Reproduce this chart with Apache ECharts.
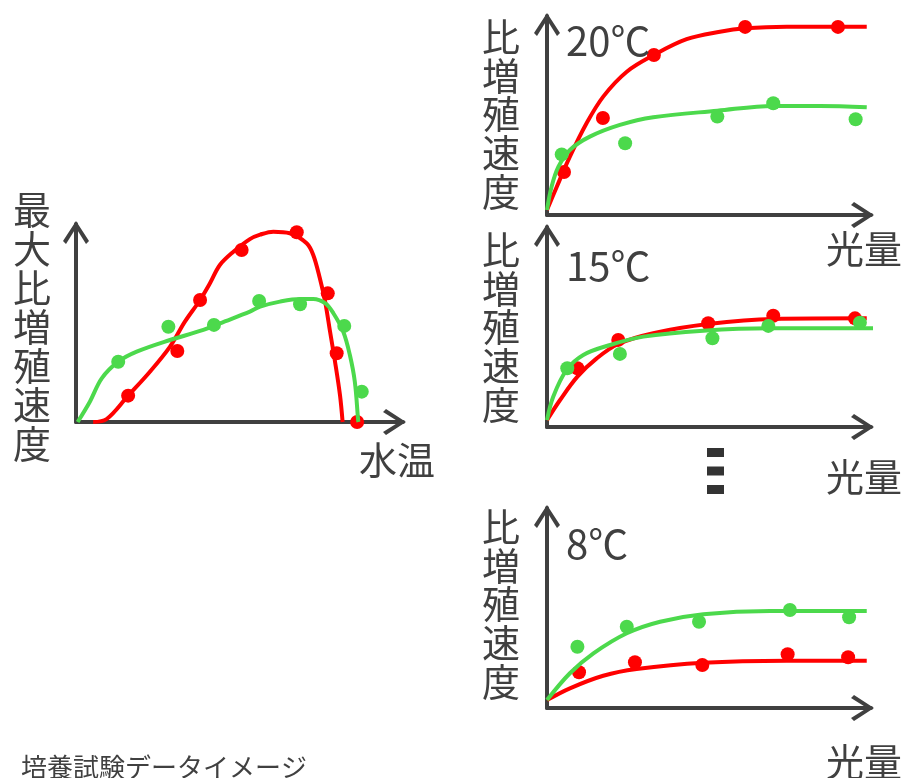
<!DOCTYPE html>
<html>
<head>
<meta charset="utf-8">
<script src="https://cdn.jsdelivr.net/npm/echarts@6/dist/echarts.min.js"></script>
<style>html,body{margin:0;padding:0;background:#fff}#c{width:903px;height:778px}</style>
</head>
<body>
<div id="c"></div>
<script>
// ---------- data (arbitrary 0..100 units) ----------
// Left panel: max specific growth rate vs water temperature
const tempRedPoints   = [[15.8,13.1],[30.7,35.3],[37.6,60.7],[50.2,85.6],[66.9,94.4],[76.3,64.0],[79.0,34.2],[85.2,0]];
const tempGreenPoints = [[12.8,30.0],[28.0,47.4],[41.8,48.3],[55.5,60.2],[67.9,58.6],[81.3,47.8],[86.6,15.1]];
const tempRedCurve    = [[5.2,0],[9.3,1.5],[15.8,13.1],[22.4,25.0],[28.5,37.5],[33.0,49.9],[37.6,60.7],[40.6,69.0],[43.6,78.1],[47.7,84.7],[52.7,91.0],[55.8,93.2],[59.8,94.7],[64.8,93.9],[69.9,88.9],[71.9,83.1],[73.9,71.5],[75.5,59.9],[77.0,44.9],[78.5,30.0],[80.0,13.4],[80.8,0]];
const tempGreenCurve  = [[0.5,0],[4.2,10.1],[7.8,21.7],[12.8,30.0],[18.4,35.0],[28.5,40.8],[38.6,45.8],[43.6,49.1],[52.7,54.9],[55.8,57.4],[61.8,59.9],[67.9,61.2],[71.9,61.2],[75.5,59.1],[78.0,54.1],[81.0,44.9],[83.0,33.3],[84.5,20.0],[85.5,1.0],[85.6,0]];

// 20℃ panel: specific growth rate vs light
const t20RedPoints   = [[5.2,21.3],[17.1,48.0],[32.7,79.2],[60.6,93.1],[89.0,93.1]];
const t20GreenPoints = [[4.5,30.0],[23.9,35.5],[52.1,48.7],[69.2,55.3],[94.4,47.4]];
const t20RedCurve    = [[0,2.5],[3.0,14.0],[7.0,28.9],[12.1,45.4],[17.2,58.6],[24.4,70.9],[32.7,79.2],[42.7,87.0],[52.9,90.7],[60.6,92.4],[73.3,93.2],[97.8,93.2]];
const t20GreenCurve  = [[0,2.5],[1.4,14.0],[3.5,23.9],[7.0,32.2],[13.1,38.8],[22.3,44.6],[32.5,48.4],[52.1,51.6],[69.2,54.0],[83.5,54.0],[97.8,53.3]];

// 15℃ panel
const t15RedPoints   = [[9.3,28.9],[21.8,42.9],[49.3,51.1],[69.2,54.8],[94.2,53.5]];
const t15GreenPoints = [[6.2,28.9],[22.3,36.0],[50.6,43.7],[67.7,49.8],[95.7,51.4]];
const t15RedCurve    = [[0,3.4],[4.0,13.3],[9.3,24.8],[15.2,33.8],[21.8,40.9],[32.5,46.2],[49.3,50.7],[69.2,53.2],[97.8,53.5]];
const t15GreenCurve  = [[0,3.4],[1.9,14.9],[6.0,28.1],[11.1,35.5],[19.3,40.4],[29.5,44.5],[47.8,47.4],[68.2,48.6],[102.8,48.6]];

// 8℃ panel
const t8RedPoints   = [[9.8,17.6],[26.9,22.5],[47.5,21.2],[73.6,26.5],[92.1,25.0]];
const t8GreenPoints = [[9.3,30.2],[24.4,40.0],[46.5,42.5],[74.3,48.3],[92.4,44.7]];
const t8RedCurve    = [[0,3.9],[7.0,9.7],[17.2,15.9],[27.4,19.2],[47.8,22.3],[73.3,23.3],[97.8,23.3]];
const t8GreenCurve  = [[0,3.9],[7.0,17.1],[14.2,26.9],[24.4,36.8],[34.6,42.5],[47.8,46.2],[68.2,47.8],[97.8,47.8]];

// texts
const leftYLabel   = ['最','大','比','増','殖','速','度'];
const rightYLabel  = ['比','増','殖','速','度'];
const leftXLabel   = '水温';
const rightXLabel  = '光量';
const panelTemps   = ['20℃','15℃','8℃'];
const caption      = '培養試験データイメージ';

// ---------- styling ----------
const FONT  = '"Noto Sans CJK JP","Noto Sans",sans-serif';
const AXC   = '#404040';
const TXC   = '#404040';
const RED   = '#ff0000';
const GREEN = '#4cd94c';
const ARROW = 'path://M13,0L26,20L23,23L13,7L3,23L0,20Z';

const grids = [
  {left:76,  top:224, width:327, height:198},
  {left:547, top:16,  width:324, height:199},
  {left:547, top:227, width:324, height:200},
  {left:547, top:508, width:324, height:200}
];

function axis(i, max) {
  return {
    type:'value', gridIndex:i, min:0, max:max,
    axisLine:{show:true, onZero:true, lineStyle:{color:AXC, width:4},
      symbol:['none', ARROW], symbolSize:[26,23], symbolOffset:[0,-8.5]},
    axisTick:{show:false}, axisLabel:{show:false}, splitLine:{show:false}
  };
}

const panels = [
  [tempRedCurve, tempRedPoints, tempGreenCurve, tempGreenPoints],
  [t20RedCurve, t20RedPoints, t20GreenCurve, t20GreenPoints],
  [t15RedCurve, t15RedPoints, t15GreenCurve, t15GreenPoints],
  [t8RedCurve, t8RedPoints, t8GreenCurve, t8GreenPoints]
];

const series = [];
panels.forEach((p, i) => {
  const lineS = (data, color, z) => ({type:'line', xAxisIndex:i, yAxisIndex:i, data, smooth:0.35,
    showSymbol:false, symbol:'none', clip:false, lineStyle:{color, width:4}, z, silent:true});
  const dotS = (data, color, z) => ({type:'scatter', xAxisIndex:i, yAxisIndex:i, data, symbolSize:14,
    clip:false, itemStyle:{color, opacity:1}, z, silent:true});
  series.push(lineS(p[0], RED, 2), dotS(p[1], RED, 3), lineS(p[2], GREEN, 4), dotS(p[3], GREEN, 5));
});

function txt(text, x, y, size, align, lh) {
  return {type:'text', x, y, silent:true, z:10, style:{text, fill:TXC, font:size+'px '+FONT,
    align, textAlign:align, verticalAlign:'top', textVerticalAlign:'top', lineHeight:lh || size}};
}

const graphics = [
  txt(leftYLabel.join('\n'), 32, 190.5, 38, 'center', 39),
  txt(rightYLabel.join('\n'), 501, 17.5, 38, 'center', 38.6),
  txt(rightYLabel.join('\n'), 501, 230.5, 38, 'center', 38.6),
  txt(rightYLabel.join('\n'), 501, 507.5, 38, 'center', 38.6),
  txt(leftXLabel, 435, 441, 38, 'right'),
  txt(rightXLabel, 902, 230, 38, 'right'),
  txt(rightXLabel, 902, 458, 38, 'right'),
  txt(rightXLabel, 902, 743, 38, 'right'),
  txt(panelTemps[0], 566, 21, 40, 'left'),
  txt(panelTemps[1], 566, 246, 40, 'left'),
  txt(panelTemps[2], 566, 524, 40, 'left'),
  txt(caption, 21, 754, 26, 'left'),
  {type:'rect', shape:{x:707, y:448, width:17, height:9}, style:{fill:'#333'}, silent:true},
  {type:'rect', shape:{x:707, y:466.5, width:17, height:9}, style:{fill:'#333'}, silent:true},
  {type:'rect', shape:{x:707, y:485, width:17, height:9}, style:{fill:'#333'}, silent:true}
];

const chart = echarts.init(document.getElementById('c'), null, {renderer:'canvas'});
chart.setOption({
  animation:false,
  backgroundColor:'#ffffff',
  grid: grids.map(g => Object.assign({outerBoundsMode:'none', containLabel:false}, g)),
  xAxis: grids.map((g, i) => axis(i, 99.1)),
  yAxis: grids.map((g, i) => axis(i, 98.5)),
  series,
  graphic: graphics
});
</script>
</body>
</html>
